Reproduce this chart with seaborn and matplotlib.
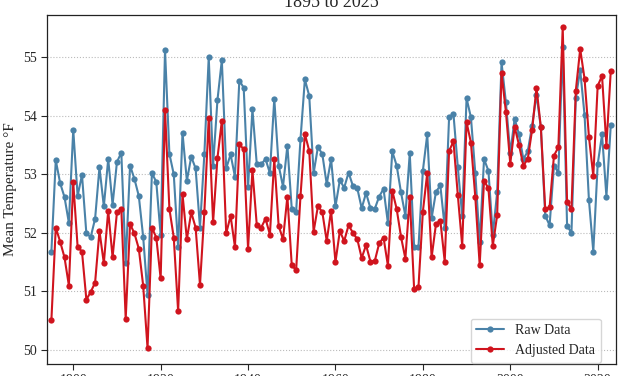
import matplotlib
matplotlib.use("Agg")
import matplotlib.pyplot as plt
import numpy as np
import pandas as pd
import seaborn as sns

# Annual mean temperature, 1895-2023
years = list(range(1895, 2024))

raw_data = [
    51.68, 53.24, 52.85, 52.61, 52.17, 53.76, 52.63, 52.99, 51.99, 51.93,
    52.24, 53.12, 52.45, 53.26, 52.48, 53.21, 53.37, 51.48, 53.15, 52.92,
    52.63, 51.93, 50.94, 53.02, 52.87, 51.96, 55.12, 53.35, 53.00, 51.75,
    53.71, 52.89, 53.30, 53.10, 52.09, 53.34, 55.00, 53.15, 54.27, 54.95,
    53.10, 53.34, 52.96, 54.60, 54.48, 52.78, 54.11, 53.17, 53.17, 53.26,
    53.02, 54.29, 53.15, 52.79, 53.49, 52.41, 52.36, 53.60, 54.62, 54.34,
    53.02, 53.47, 53.34, 52.83, 53.26, 52.45, 52.90, 52.77, 53.03, 52.80,
    52.76, 52.42, 52.68, 52.42, 52.41, 52.62, 52.75, 52.17, 53.39, 53.15,
    52.69, 52.29, 53.36, 51.76, 51.76, 53.06, 53.68, 52.25, 52.70, 52.81,
    52.09, 53.97, 54.03, 53.12, 52.29, 54.30, 53.97, 53.02, 51.84, 53.26,
    53.06, 51.97, 52.69, 54.91, 54.23, 53.36, 53.95, 53.68, 53.26, 53.39,
    53.83, 54.36, 53.80, 52.29, 52.13, 53.15, 53.03, 55.17, 52.12, 52.00,
    54.31, 54.78, 54.01, 52.56, 51.68, 53.17, 53.68, 52.62, 53.84,
]

adjusted_data = [
    50.51, 52.09, 51.85, 51.58, 51.10, 52.86, 51.76, 51.68, 50.86, 50.99,
    51.15, 52.03, 51.48, 52.38, 51.58, 52.35, 52.41, 50.53, 52.15, 51.99,
    51.73, 51.10, 50.03, 52.09, 51.92, 51.22, 54.10, 52.41, 51.92, 50.66,
    52.66, 51.89, 52.35, 52.09, 51.11, 52.35, 53.96, 52.18, 53.28, 53.91,
    51.99, 52.29, 51.76, 53.51, 53.43, 51.73, 53.07, 52.13, 52.09, 52.24,
    51.97, 53.26, 52.12, 51.89, 52.62, 51.45, 51.36, 52.63, 53.69, 53.40,
    52.02, 52.46, 52.35, 51.86, 52.38, 51.50, 52.03, 51.86, 52.13, 52.00,
    51.89, 51.57, 51.79, 51.51, 51.52, 51.82, 51.92, 51.44, 52.72, 52.41,
    51.93, 51.56, 52.61, 51.04, 51.08, 52.36, 53.02, 51.58, 52.15, 52.21,
    51.51, 53.40, 53.56, 52.64, 51.78, 53.89, 53.54, 52.61, 51.45, 52.89,
    52.76, 51.78, 52.30, 54.73, 54.07, 53.18, 53.81, 53.50, 53.15, 53.26,
    53.76, 54.48, 53.80, 52.40, 52.44, 53.32, 53.46, 55.51, 52.52, 52.41,
    54.43, 55.14, 54.63, 53.64, 52.97, 54.51, 54.68, 53.49, 54.77,
]

series_labels = ["Raw Data", "Adjusted Data"]
series_colors = ["#4a82a8", "#d0141e"]

df = pd.DataFrame({
    "Year": years * 2,
    "Temp": raw_data + adjusted_data,
    "Series": [series_labels[0]] * len(years) + [series_labels[1]] * len(years),
})

sns.set_style("ticks")
plt.rcParams["font.family"] = ["Liberation Serif", "DejaVu Serif"]

fig = plt.figure(figsize=(6.27, 3.76), dpi=100)
ax = fig.add_axes([0.075, 0.032, 0.9075, 0.928])

sns.lineplot(
    data=df, x="Year", y="Temp", hue="Series",
    palette=dict(zip(series_labels, series_colors)),
    marker="o", markersize=4.5, markeredgewidth=0, linewidth=1.5,
    ax=ax,
)

ax.set_xlim(1894, 2024.2)
ax.set_ylim(49.76, 55.72)
ax.set_xticks(range(1900, 2021, 20))
ax.set_yticks(range(50, 56))
ax.tick_params(labelsize=10, length=4, width=0.8)
ax.yaxis.grid(True, linestyle=":", color="#bbbbbb", linewidth=0.8)
ax.set_axisbelow(True)
for s in ax.spines.values():
    s.set_color("#222222")
    s.set_linewidth(0.9)

ax.set_xlabel("")
ax.set_ylabel("Mean Temperature °F", fontsize=11)
ax.set_title("1895 to 2025", fontsize=13)

ax.legend(
    title=None, loc="lower right", bbox_to_anchor=(0.973, 0.004),
    borderaxespad=0, fontsize=10, frameon=True,
)

fig.savefig("out.png", dpi=100)
